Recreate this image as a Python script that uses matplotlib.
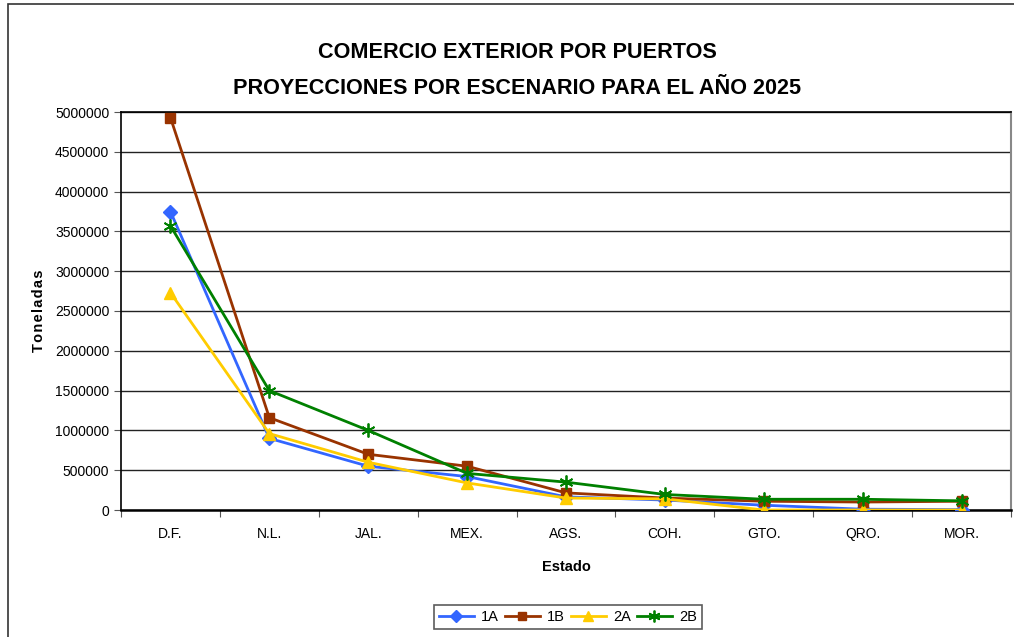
import matplotlib.pyplot as plt
import matplotlib.patches as patches
import numpy as np

plt.rcParams['font.family'] = ['Liberation Sans', 'DejaVu Sans']

########   Datos   ########
estados = ['D.F.', 'N.L.', 'JAL.', 'MEX.', 'AGS.', 'COH.', 'GTO.', 'QRO.', 'MOR.']
s1A = [3750000, 900000, 550000, 420000, 165000, 125000, 60000, 10000, 5000]
s1B = [4930000, 1160000, 700000, 550000, 215000, 150000, 110000, 100000, 110000]
s2A = [2730000, 960000, 600000, 340000, 150000, 140000, 0, 0, 0]
s2B = [3570000, 1500000, 1000000, 460000, 350000, 195000, 135000, 135000, 115000]
yticks = np.arange(0, 5000001, 500000)

x = np.arange(len(estados))

fig = plt.figure(figsize=(10.14, 6.37), dpi=100)
# marco exterior del grafico
fig.patches.append(patches.Rectangle((8/1014., -0.1), 1.2, 1.1 - 4/637., transform=fig.transFigure,
                                     fill=False, edgecolor='#333333', lw=1.2))

ax = fig.add_axes([121/1014., 127/637., 890/1014., 398/637.])
ax.plot(x, s1A, c='#3366FF', lw=2, marker='D', ms=7, label='1A', zorder=3)
ax.plot(x, s1B, c='#993300', lw=2, marker='s', ms=7, label='1B', zorder=3)
ax.plot(x, s2A, c='#FFCC00', lw=2, marker='^', ms=8, label='2A', zorder=3)
ax.plot(x, s2B, c='#008000', lw=2, marker=(6, 2, 0), ms=10, mew=1.3, label='2B', zorder=3)

ax.set_xlim(-0.5, 8.5)
ax.set_ylim(0, 5000000)
ax.set_yticks(yticks)
ax.set_yticklabels([str(v) for v in yticks], fontsize=10)
ax.set_xticks(np.arange(-0.5, 9, 1))
ax.set_xticklabels([])
ax.set_xticks(x, minor=True)
ax.set_xticklabels(estados, minor=True, fontsize=10)
ax.tick_params(axis='x', which='minor', length=0, pad=12)
ax.tick_params(axis='both', which='major', length=5, direction='out', color='#555555')
ax.yaxis.grid(True, color='#222222', lw=1)
ax.set_axisbelow(True)
ax.spines['bottom'].set_linewidth(1.8)
ax.spines['left'].set_linewidth(1.2)
ax.spines['top'].set_linewidth(1.2)
ax.spines['right'].set_color('#888888')
ax.spines['right'].set_linewidth(1.5)

ax.set_ylabel('\u200a'.join('Toneladas'), fontsize=10.5, fontweight='bold', labelpad=6)
ax.set_xlabel('Estado', fontsize=10.5, fontweight='bold', labelpad=14)

fig.text(0.51, 1 - 52/637., 'COMERCIO EXTERIOR POR PUERTOS', ha='center', va='center',
         fontsize=15.6, fontweight='bold')
fig.text(0.51, 1 - 88/637., 'PROYECCIONES POR ESCENARIO PARA EL AÑO 2025', ha='center', va='center',
         fontsize=15.6, fontweight='bold')

leg = fig.legend(loc='center', bbox_to_anchor=(568/1014., 1 - 617/637.), ncol=4, fontsize=10.5,
                 frameon=True, fancybox=False, edgecolor='#333333', handlelength=2.4,
                 columnspacing=0.4, handletextpad=0.5, borderpad=0.35, markerscale=0.85)
leg.get_frame().set_linewidth(1.2)

plt.savefig('out.png')
